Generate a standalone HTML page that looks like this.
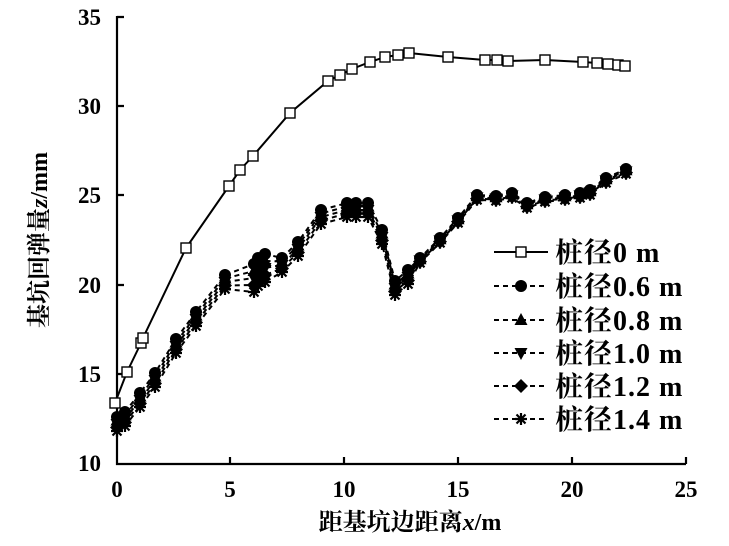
<!DOCTYPE html>
<html><head><meta charset="utf-8"><style>
body{margin:0;background:#fff}
text{font-family:"Liberation Serif","Noto Serif CJK SC",serif;fill:#000;font-weight:bold}
</style></head><body>
<svg width="729" height="541" xmlns="http://www.w3.org/2000/svg">
<defs>
<g id="sq"><rect x="-5" y="-5" width="10" height="10" fill="#fff" stroke="#000" stroke-width="1.4"/></g>
<g id="ci"><circle r="6" fill="#000"/></g>
<g id="tr"><path d="M0,-7 L6.5,5 L-6.5,5Z" fill="#000"/></g>
<g id="it"><path d="M0,7 L6.5,-5 L-6.5,-5Z" fill="#000"/></g>
<g id="di"><path d="M0,-7 L7,0 L0,7 L-7,0Z" fill="#000"/></g>
<g id="as"><path d="M-6,0H6M0,-6V6M-4.5,-4.5L4.5,4.5M-4.5,4.5L4.5,-4.5" stroke="#000" stroke-width="2.2"/></g>
</defs>
<g stroke="#000" stroke-width="2.2" fill="none">
<path d="M117,16 V464 H686"/>
<path d="M117,17h7M117,106h7M117,195h7M117,285h7M117,374h7"/>
<path d="M230,464v-7M344,464v-7M458,464v-7M572,464v-7M686,464v-7"/>
</g>
<g font-size="23" text-anchor="end">
<text x="101" y="25">35</text><text x="101" y="114">30</text><text x="101" y="203">25</text>
<text x="101" y="293">20</text><text x="101" y="382">15</text><text x="101" y="471">10</text>
</g>
<g font-size="23" text-anchor="middle">
<text x="117" y="497">0</text><text x="230" y="497">5</text><text x="344" y="497">10</text>
<text x="458" y="497">15</text><text x="572" y="497">20</text><text x="686" y="497">25</text>
</g>
<text x="410" y="530" font-size="24" text-anchor="middle">距基坑边距离<tspan font-style="italic">x</tspan>/m</text>
<text transform="translate(47,240) rotate(-90)" font-size="24" text-anchor="middle">基坑回弹量<tspan font-style="italic">z</tspan>/mm</text>
<polyline fill="none" stroke="#000" stroke-width="2" points="115,403 127,372 141,343 143,338 186,248 229,186 240,170 253,156 290,113 328,81 340,75 352,69 370,62 385,57 398,55 409,53 448,57 485,60 497,60 508,61 545,60 583,62 597,63 608,64 618,65 625,66"/>
<g id="s0"></g>
<g id="others"></g>
<g stroke="#000" stroke-width="2">
<line x1="494" y1="252" x2="548" y2="252"/>
<g stroke-dasharray="5,4"><line x1="494" y1="286" x2="548" y2="286"/><line x1="494" y1="320" x2="548" y2="320"/><line x1="494" y1="353" x2="548" y2="353"/><line x1="494" y1="386" x2="548" y2="386"/><line x1="494" y1="419" x2="548" y2="419"/></g>
</g>
<use href="#sq" x="521" y="252"/><use href="#ci" x="521" y="286"/><use href="#tr" x="521" y="320"/><use href="#it" x="521" y="353"/><use href="#di" x="521" y="386"/><use href="#as" x="521" y="419"/>
<g font-size="28" letter-spacing="1">
<text x="555" y="262">桩径0 m</text>
<text x="555" y="296">桩径0.6 m</text>
<text x="555" y="330">桩径0.8 m</text>
<text x="555" y="363">桩径1.0 m</text>
<text x="555" y="396">桩径1.2 m</text>
<text x="555" y="429">桩径1.4 m</text>
</g>
<script>
var sq=[[115,403],[127,372],[141,343],[143,338],[186,248],[229,186],[240,170],[253,156],[290,113],[328,81],[340,75],[352,69],[370,62],[385,57],[398,55],[409,53],[448,57],[485,60],[497,60],[508,61],[545,60],[583,62],[597,63],[608,64],[618,65],[625,66]];
var g0=document.getElementById('s0'),NS='http://www.w3.org/2000/svg';
sq.forEach(function(p){var u=document.createElementNS(NS,'use');u.setAttribute('href','#sq');u.setAttribute('x',p[0]);u.setAttribute('y',p[1]);g0.appendChild(u);});
var base=[[117,417],[125,412],[140,393],[155,373],[176,339],[196,312],[225,275],[254,264],[258,258],[265,254],[282,258],[298,242],[321,210],[347,203],[356,203],[368,203],[382,230],[395,281],[408,270],[420,258],[440,238],[458,218],[477,195],[496,196],[512,193],[527,203],[545,197],[565,195],[580,193],[590,190],[606,178],[626,169]];
var ids=['ci','tr','it','di','as'],go=document.getElementById('others');
ids.forEach(function(id,k){
 var pts=base.map(function(p,i){var off=(p[0]<420?k*3.5:k*1.2);if(p[0]>250&&p[0]<275)off=k*7;return [p[0],p[1]+off];});
 var pl=document.createElementNS(NS,'polyline');pl.setAttribute('fill','none');pl.setAttribute('stroke','#000');pl.setAttribute('stroke-width','2');pl.setAttribute('stroke-dasharray','5,4');
 pl.setAttribute('points',pts.map(function(p){return p.join(',')}).join(' '));go.appendChild(pl);
 pts.forEach(function(p){var u=document.createElementNS(NS,'use');u.setAttribute('href','#'+id);u.setAttribute('x',p[0]);u.setAttribute('y',p[1]);go.appendChild(u);});
});
</script>
</svg>
</body></html>
